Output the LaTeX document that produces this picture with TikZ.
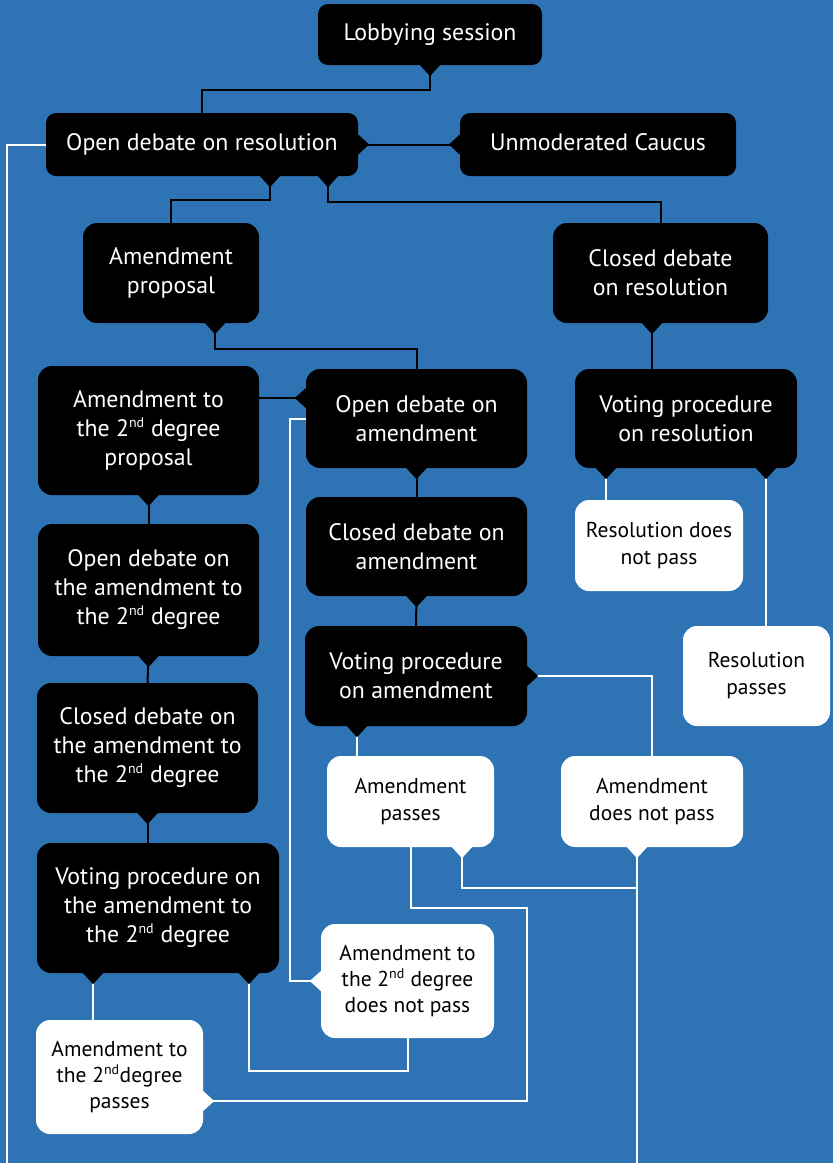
\documentclass[tikz,border=0pt]{standalone}
\usepackage{fontspec}
\setmainfont{PT Sans}
\usetikzlibrary{calc}
\definecolor{bg}{RGB}{46,116,181}
\newcommand\tabD[2]{\fill[#2] ($(#1)+(-10,0)$) -- ($(#1)+(10,0)$) -- ($(#1)+(0,11)$) -- cycle;}
\newcommand\tabL[2]{\fill[#2] ($(#1)+(0,-10)$) -- ($(#1)+(0,10)$) -- ($(#1)+(-11,0)$) -- cycle;}
\newcommand\tabR[2]{\fill[#2] ($(#1)+(0,-10)$) -- ($(#1)+(0,10)$) -- ($(#1)+(11,0)$) -- cycle;}
\newcommand\nd{2\textsuperscript{\fontsize{14}{14}\selectfont nd}}
\begin{document}
\begin{tikzpicture}[x=1pt,y=-1pt,
  box/.style={rounded corners=14pt, align=center, inner sep=0pt,
    font=\fontsize{23.8}{29}\selectfont},
  bbox/.style={box, fill=black, text=white},
  wbox/.style={box, fill=white, text=black},
  one/.style={rounded corners=10pt, text depth=4pt},
  bl/.style={draw=black, line width=2pt},
  wl/.style={draw=white, line width=2pt}]
\fill[bg] (0,0) rectangle (833,1163);
\useasboundingbox (0,0) rectangle (833,1163);
% nodes
\node[bbox, one, minimum width=224pt, minimum height=61pt] (lob) at (430,34.5) {Lobbying session};
\node[bbox, one, minimum width=312pt, minimum height=63pt] (ores) at (202,144.5) {Open debate on resolution};
\node[bbox, one, minimum width=276pt, minimum height=63pt] (unm) at (598,144.5) {Unmoderated Caucus};
\node[bbox, minimum width=176pt, minimum height=100pt] (amp) at (171,273) {Amendment\\proposal};
\node[bbox, minimum width=215pt, minimum height=100pt] (cdr) at (660.5,273) {Closed debate\\on resolution};
\node[bbox, minimum width=221pt, minimum height=129pt] (a2p) at (148.5,430.5) {Amendment to\\the \nd{} degree\\proposal};
\node[bbox, minimum width=221pt, minimum height=99pt] (oda) at (416.5,418.5) {Open debate on\\amendment};
\node[bbox, minimum width=222pt, minimum height=99pt] (vpr) at (686,418.5) {Voting procedure\\on resolution};
\node[bbox, minimum width=221pt, minimum height=99pt] (cda) at (416.5,546.5) {Closed debate on\\amendment};
\node[wbox, minimum width=168pt, minimum height=91pt, font=\fontsize{21.5}{27}\selectfont] (rdn) at (659,545.5) {Resolution does\\not pass};
\node[bbox, minimum width=221pt, minimum height=132pt] (od2) at (148.5,590) {Open debate on\\the amendment to\\the \nd{} degree};
\node[wbox, minimum width=147pt, minimum height=100pt, font=\fontsize{21.5}{27}\selectfont] (rp) at (756.5,676) {Resolution\\passes};
\node[bbox, minimum width=222pt, minimum height=100pt] (vpa) at (416,676) {Voting procedure\\on amendment};
\node[bbox, minimum width=221pt, minimum height=130pt] (cd2) at (147.5,748) {Closed debate on\\the amendment to\\the \nd{} degree};
\node[wbox, minimum width=167pt, minimum height=91pt, font=\fontsize{21.5}{27}\selectfont] (ap) at (410.5,801.5) {Amendment\\passes};
\node[wbox, minimum width=182pt, minimum height=91pt, font=\fontsize{21.5}{27}\selectfont] (adn) at (652,801.5) {Amendment\\does not pass};
\node[bbox, minimum width=242pt, minimum height=130pt] (vp2) at (158,908) {Voting procedure on\\the amendment to\\the \nd{} degree};
\node[wbox, minimum width=173pt, minimum height=114pt, font=\fontsize{21.5}{26}\selectfont] (a2n) at (407.5,981) {Amendment to\\the \nd{} degree\\does not pass};
\node[wbox, minimum width=167pt, minimum height=114pt, font=\fontsize{21.5}{26}\selectfont] (a2pass) at (119.5,1077) {Amendment to\\the \nd{}degree\\passes};
% tab points and off-page ends
\coordinate (tO1) at ([xshift=68pt]ores.south);
\coordinate (tO2) at ([xshift=126pt]ores.south);
\coordinate (tAmp) at ([xshift=44pt]amp.south);
\coordinate (tCdr) at ([xshift=-8.5pt]cdr.south);
\coordinate (tOdaW) at ([yshift=20.5pt]oda.west);
\coordinate (tVr1) at ([xshift=-80pt]vpr.south);
\coordinate (tVr2) at ([xshift=80pt]vpr.south);
\coordinate (tVaS) at ([xshift=-59pt]vpa.south);
\coordinate (tAp) at ([xshift=51.5pt]ap.south);
\coordinate (tAdn) at ([xshift=-15pt]adn.south);
\coordinate (tA2pass) at ([yshift=-24pt]a2pass.east);
\coordinate (tV21) at ([xshift=-65pt]vp2.south);
\coordinate (tV22) at ([xshift=91pt]vp2.south);
\coordinate (offL) at (7,1163);
\coordinate (offB) at (637,1163);
% black connectors
\draw[bl] (lob.south) -- ++(0,25) -| (ores.north);
\draw[bl] (ores.east) -- (unm.west);
\draw[bl] (tO1) -- ++(0,24) -| (amp.north);
\draw[bl] (tO2) -- ++(0,26) -| (cdr.north);
\draw[bl] (tAmp) -- ++(0,26) -| (oda.north);
\draw[bl] (tCdr) -- (tCdr |- vpr.north);
\draw[bl] (tOdaW) -- (tOdaW -| a2p.east);
\draw[bl] (a2p.south) -- (od2.north);
\draw[bl] (oda.south) -- (cda.north);
\draw[bl] (cda.south) -- (vpa.north);
\draw[bl] (od2.south) -- (cd2.north);
\draw[bl] (cd2.south) -- (cd2.south |- vp2.north);
% white connectors
\draw[wl] (ores.west) -| (offL);
\draw[wl] (tVr1) -- (tVr1 |- rdn.north);
\draw[wl] (tVr2) -- (tVr2 |- rp.north);
\draw[wl] (vpa.east) -| (adn.north);
\draw[wl] (tVaS) -- (tVaS |- ap.north);
\draw[wl] (ap.south) -- ++(0,61) -- ++(116,0) |- (tA2pass);
\draw[wl] (tAp) -- ++(0,41) -| (tAdn);
\draw[wl] (tAdn) -- (offB);
\draw[wl] (oda.west) -- ++(-16,0) |- (a2n.west);
\draw[wl] (tV21) -- (tV21 |- a2pass.north);
\draw[wl] (tV22) -- ++(0,98) -| (a2n.south);
% tabs
\tabD{lob.south}{black}
\tabR{ores.east}{black}
\tabL{unm.west}{black}
\tabD{tO1}{black}
\tabD{tO2}{black}
\tabD{tAmp}{black}
\tabD{tCdr}{black}
\tabL{tOdaW}{black}
\tabD{a2p.south}{black}
\tabD{oda.south}{black}
\tabD{cda.south}{black}
\tabD{od2.south}{black}
\tabD{cd2.south}{black}
\tabD{tVr1}{black}
\tabD{tVr2}{black}
\tabR{vpa.east}{black}
\tabD{tVaS}{black}
\tabD{tAp}{white}
\tabD{tAdn}{white}
\tabL{a2n.west}{white}
\tabR{tA2pass}{white}
\tabD{tV21}{black}
\tabD{tV22}{black}
\end{tikzpicture}
\end{document}
